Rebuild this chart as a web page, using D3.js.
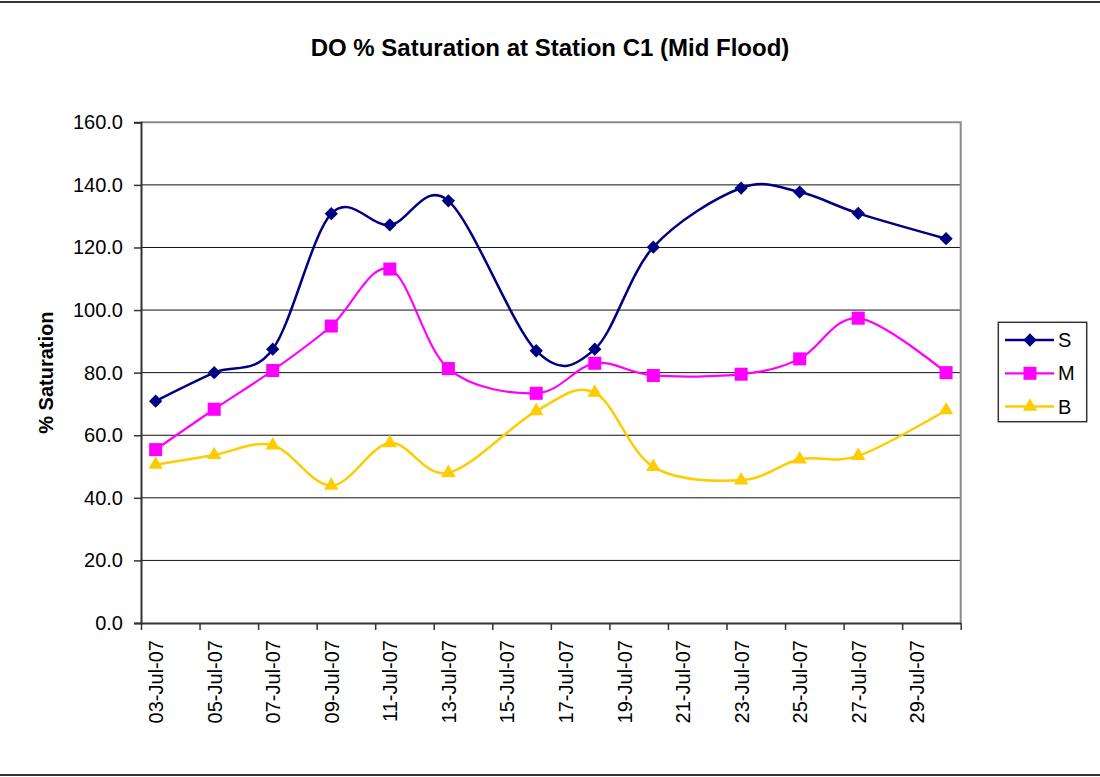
<!DOCTYPE html>
<html>
<head>
<meta charset="utf-8">
<script src="https://cdn.jsdelivr.net/npm/d3@7"></script>
<style>
  html, body { margin: 0; padding: 0; background: #fff; }
  svg { display: block; font-family: "Liberation Sans", Arial, sans-serif; }
</style>
</head>
<body>
<svg id="chart" width="1100" height="777"></svg>
<script>
// ---- data ----
const dates = ["2007-07-03","2007-07-05","2007-07-07","2007-07-09","2007-07-11","2007-07-13","2007-07-16","2007-07-18","2007-07-20","2007-07-23","2007-07-25","2007-07-27","2007-07-30"];
const seriesS = [70.9, 80.0, 87.5, 130.8, 127.2, 134.9, 87.0, 87.5, 120.1, 139.0, 137.7, 130.9, 122.8];
const seriesM = [55.4, 68.3, 80.7, 94.9, 113.1, 81.3, 73.4, 83.0, 79.1, 79.5, 84.4, 97.4, 80.0];
const seriesB = [50.6, 53.7, 56.8, 43.9, 57.5, 48.0, 67.7, 73.6, 49.9, 45.6, 52.3, 53.4, 68.0];
const seriesNames = ["S", "M", "B"];
const yTicks = [0, 20, 40, 60, 80, 100, 120, 140, 160];
const title = "DO % Saturation at Station C1 (Mid Flood)";
const yTitle = "% Saturation";

// ---- layout ----
const svg = d3.select("#chart");
const L = 141, R = 960.7, T = 122.3, B = 623;
const parse = d3.utcParse("%Y-%m-%d");
const dayStart = parse("2007-07-03"), dayEnd = parse("2007-07-31");
const x = d3.scaleUtc().domain([dayStart, dayEnd]).range([L, R]);
const y = d3.scaleLinear().domain([0, 160]).range([B, T]);
const mid = d => d3.utcHour.offset(d, 12);

// outer border lines
svg.append("rect").attr("x", -5).attr("y", 2).attr("width", 1110).attr("height", 773)
  .attr("fill", "none").attr("stroke", "#333").attr("stroke-width", 2);

// title
svg.append("text").attr("x", 550).attr("y", 56).attr("text-anchor", "middle")
  .attr("font-size", 24).attr("font-weight", "bold").text(title);

// gridlines
svg.append("g").selectAll("line").data(yTicks.filter(v => v > 0 && v < 160)).join("line")
  .attr("x1", L).attr("x2", R).attr("y1", d => y(d)).attr("y2", d => y(d))
  .attr("stroke", "#111").attr("stroke-width", 1);

// plot border top/right
svg.append("path").attr("d", `M${L},${T}H${R}V${B}`).attr("fill", "none")
  .attr("stroke", "#8a8a8a").attr("stroke-width", 2);

// y axis
const yAxis = d3.axisLeft(y).tickValues(yTicks).tickFormat(d3.format(".1f")).tickSize(7).tickPadding(11);
const gy = svg.append("g").attr("transform", `translate(${L},0)`).call(yAxis);
gy.select(".domain").attr("stroke", "#333").attr("stroke-width", 2);
gy.selectAll(".tick line").attr("stroke", "#333").attr("stroke-width", 1.5);
gy.selectAll("text").attr("font-size", 20).attr("font-family", "Liberation Sans, Arial, sans-serif").attr("fill", "#000");

// x axis tick marks
const tickDates = d3.utcDay.range(dayStart, d3.utcDay.offset(dayEnd, 1), 2);
const gx = svg.append("g").attr("transform", `translate(0,${B})`)
  .call(d3.axisBottom(x).tickValues(tickDates).tickFormat("").tickSize(7).tickSizeOuter(0));
gx.select(".domain").attr("stroke", "#333").attr("stroke-width", 2);
gx.selectAll(".tick line").attr("stroke", "#333").attr("stroke-width", 1.5);

// x axis labels (centred on the day)
const labelDates = d3.utcDay.range(dayStart, dayEnd, 2).map(mid);
const fmt = d3.utcFormat("%d-%b-%y");
const gxl = svg.append("g").attr("transform", `translate(0,${B})`)
  .call(d3.axisBottom(x).tickValues(labelDates).tickFormat(fmt).tickSize(0));
gxl.select(".domain").remove();
gxl.selectAll("text").attr("font-size", 20).attr("font-family", "Liberation Sans, Arial, sans-serif").attr("fill", "#000")
  .attr("text-anchor", "end").attr("transform", "rotate(-90)")
  .attr("x", -17).attr("y", 0).attr("dy", "0.35em");

// y title
svg.append("text").attr("transform", `translate(53,${(T + B) / 2}) rotate(-90)`)
  .attr("text-anchor", "middle").attr("font-size", 20).attr("font-weight", "bold").text(yTitle);

// series
const colors = { S: "#000080", M: "#FF00FF", B: "#FFCC00" };
const widths = { S: 2.5, M: 2.2, B: 2.5 };
const series = [
  { name: "S", values: seriesS, sym: d3.symbolSquare, size: 88, rot: 45 },
  { name: "M", values: seriesM, sym: d3.symbolSquare, size: 170, rot: 0 },
  { name: "B", values: seriesB, sym: d3.symbolTriangle, size: 90, rot: 0 }
];
const line = d3.line().curve(d3.curveCatmullRom.alpha(0)).x(d => x(d.d)).y(d => y(d.v));

series.slice().reverse().forEach(s => {
  const pts = dates.map((d, i) => ({ d: mid(parse(d)), v: s.values[i] }));
  const g = svg.append("g");
  g.append("path").datum(pts).attr("d", line).attr("fill", "none")
    .attr("stroke", colors[s.name]).attr("stroke-width", widths[s.name]);
  g.selectAll("path.m").data(pts).join("path").attr("class", "m")
    .attr("transform", d => `translate(${x(d.d)},${y(d.v)}) rotate(${s.rot})`)
    .attr("d", d3.symbol().type(s.sym).size(s.size)).attr("fill", colors[s.name]);
});

// legend
const lg = svg.append("g");
lg.append("rect").attr("x", 998.3).attr("y", 322.3).attr("width", 88.4).attr("height", 99.4)
  .attr("fill", "#fff").attr("stroke", "#333").attr("stroke-width", 1.5);
series.forEach((s, i) => {
  const yy = 340 + i * 33.3;
  lg.append("line").attr("x1", 1005).attr("x2", 1054).attr("y1", yy).attr("y2", yy)
    .attr("stroke", colors[s.name]).attr("stroke-width", widths[s.name]);
  lg.append("path").attr("transform", `translate(1030,${yy}) rotate(${s.rot})`)
    .attr("d", d3.symbol().type(s.sym).size(s.size)).attr("fill", colors[s.name]);
  lg.append("text").attr("x", 1058).attr("y", yy).attr("dy", "0.35em")
    .attr("font-size", 20).text(s.name);
});
</script>
</body>
</html>
